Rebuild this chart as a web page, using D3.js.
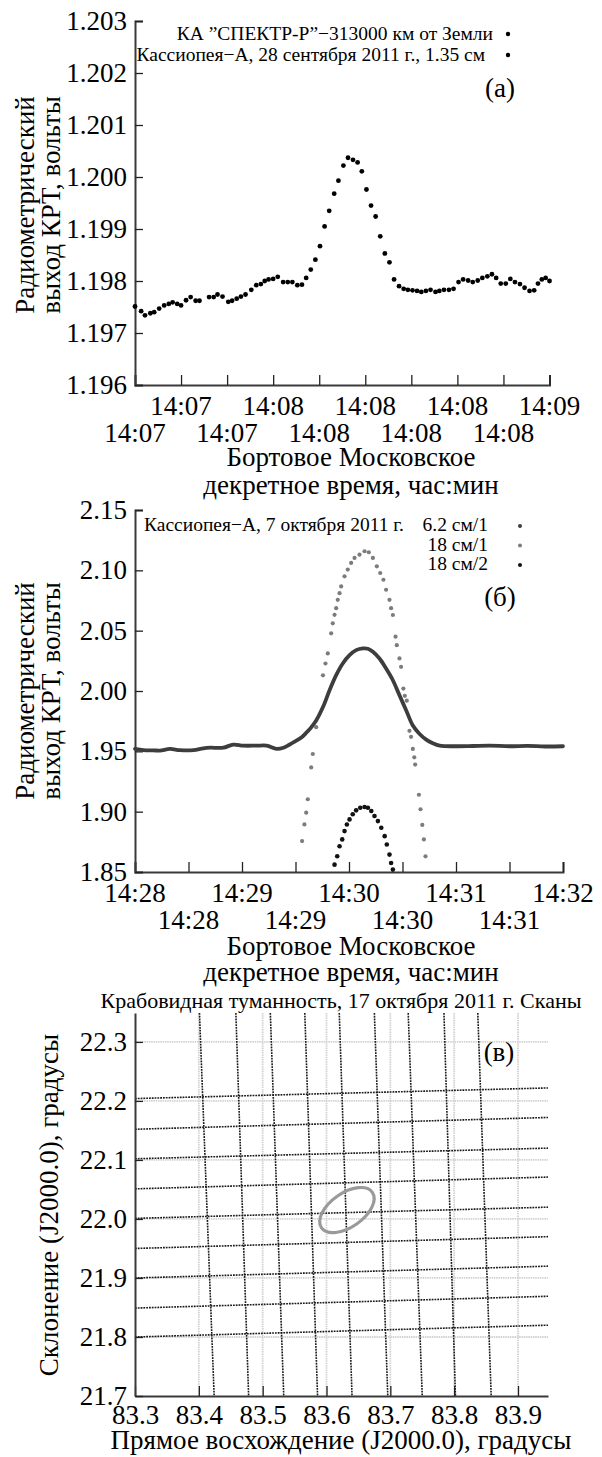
<!DOCTYPE html>
<html>
<head>
<meta charset="utf-8">
<script src="https://cdn.jsdelivr.net/npm/d3@7"></script>
<style>
  body { margin: 0; background: #fff; }
  text { font-family: "Liberation Serif", "DejaVu Serif", serif; fill: #000; }
</style>
</head>
<body>
<svg id="chart" width="602" height="1457"></svg>
<script>
// ---------- panel (a): Cas A, 28 Sep 2011, 1.35 cm ----------
// time in seconds from the first tick
const aTime = [0,1.6,2.6,4.0,5.0,6.3,7.6,8.8,9.8,11.0,
  12.0,13.3,14.5,15.8,16.8,19.3,20.5,21.5,22.8,24.3,
  25.3,26.5,27.6,28.8,30.3,31.6,32.8,33.8,34.8,36.0,
  37.2,38.6,39.8,41.0,42.3,43.5,44.6,45.8,47.0,48.2,
  49.4,50.6,51.9,53.0,54.3,55.5,56.8,58.0,59.1,60.3,
  61.5,62.7,63.9,65.1,66.3,67.5,68.8,70.0,71.1,72.3,
  73.5,74.6,75.8,77.0,78.3,79.3,80.5,81.8,83.0,84.3,
  85.5,86.8,88.0,89.3,90.5,91.8,93.0,94.1,95.3,96.6,
  97.8,99.0,100.3,101.5,102.8,104.0,105.0,106.0,107.0,108.0];
const aVolt = [1.19751,1.19742,1.19734,1.19738,1.19740,1.19747,1.19753,1.19756,1.19759,1.19756,
  1.19753,1.19763,1.19769,1.19762,1.19762,1.19769,1.19769,1.19774,1.19770,1.19760,
  1.19762,1.19766,1.19770,1.19774,1.19783,1.19792,1.19794,1.19800,1.19803,1.19804,
  1.19808,1.19798,1.19798,1.19798,1.19792,1.19793,1.19806,1.19822,1.19841,1.19867,
  1.19905,1.19935,1.19968,1.19993,1.20022,1.20037,1.20033,1.20028,1.20011,1.19976,
  1.19945,1.19924,1.19886,1.19853,1.19836,1.19803,1.19790,1.19785,1.19783,1.19782,
  1.19781,1.19779,1.19781,1.19783,1.19779,1.19781,1.19783,1.19783,1.19785,1.19798,
  1.19803,1.19801,1.19798,1.19801,1.19806,1.19809,1.19813,1.19806,1.19795,1.19795,
  1.19804,1.19798,1.19794,1.19787,1.19781,1.19782,1.19795,1.19803,1.19806,1.19800];
const aXTicks = [0,12,24,36,48,60,72,84,96,108];
const aLabelsTop = ["14:07","14:08","14:08","14:08","14:09"];   // odd ticks
const aLabelsBottom = ["14:07","14:07","14:08","14:08","14:08"]; // even ticks
const aYTicks = [1.196,1.197,1.198,1.199,1.200,1.201,1.202,1.203];
const aLegend = ["КА ”СПЕКТР-Р”−313000 км от Земли", "Кассиопея−А, 28 сентября 2011 г., 1.35 см"];

// ---------- panel (b): Cas A, 7 Oct 2011 ----------
// time in seconds from 14:28:00
const bXTicks = [0,30,60,90,120,150,180,210,240];
const bLabelsTop = ["14:28","14:29","14:30","14:31","14:32"];
const bLabelsBottom = ["14:28","14:29","14:30","14:31"];
const bYTicks = [1.85,1.90,1.95,2.00,2.05,2.10,2.15];
const bSeriesNames = ["6.2 см/1","18 см/1","18 см/2"];
const b62Time = [0,4.7,10.3,14.0,19.6,25.2,32.7,38.3,42.1,49.5,55.1,60.7,68.2,73.8,79.4,83.2,88.8,93.5,96.3,98.1,
  101.6,105.4,109.1,112.8,116.5,120.3,124.0,127.8,130.6,133.4,137.1,140.8,144.6,148.3,152.1,155.8,159.6,163.3,167.0,170.8,
  180.1,189.5,198.8,210,220,230,240];
const b62Volt = [1.952,1.951,1.9508,1.9506,1.952,1.951,1.951,1.9525,1.953,1.953,1.9556,1.9547,1.9547,1.9547,1.952,1.953,1.9575,1.9617,1.9658,1.9686,
  1.9756,1.9867,2.0006,2.0131,2.0228,2.0297,2.0339,2.0353,2.035,2.0325,2.0269,2.0186,2.0089,1.9964,1.9839,1.9714,1.9644,1.9597,1.9567,1.9547,
  1.9542,1.9544,1.9547,1.9542,1.9545,1.954,1.9542];
const b181Time = [93.7,95.0,96.0,96.9,98.8,99.7,101.6,105.4,106.8,108.1,110.0,110.9,111.9,112.8,113.7,114.7,115.6,117.5,119.3,121.2,
  123.1,125.9,128.7,131.1,133.4,135.6,137.5,139.3,140.8,142.7,143.6,144.6,146.1,146.8,148.3,149.2,150.5,151.3,152.4,153.9,
  154.8,155.8,156.6,157.1,159.2,160.1,161.1,162.0,162.9];
const b181Volt = [1.8756,1.8894,1.8992,1.9103,1.9367,1.9478,1.970,2.013,2.0228,2.0311,2.0478,2.0561,2.0631,2.0686,2.0756,2.0811,2.0867,2.095,2.1006,2.1061,
  2.1103,2.113,2.1158,2.115,2.1103,2.1033,2.0978,2.0922,2.0839,2.0756,2.0686,2.063,2.045,2.038,2.027,2.02,2.002,1.996,1.992,1.967,
  1.962,1.952,1.945,1.939,1.914,1.902,1.889,1.877,1.863];
const b182Time = [111.9,113.4,114.7,116.2,117.5,118.8,120.3,122.1,124.0,126.3,128.7,130.6,132.5,134.3,136.2,138.1,140.0,141.2,142.7,143.6,144.6];
const b182Volt = [1.8561,1.863,1.8714,1.877,1.8839,1.8894,1.8936,1.8978,1.9011,1.9033,1.9039,1.9033,1.9006,1.8964,1.8922,1.8867,1.8797,1.8728,1.8644,1.8575,1.852];

// ---------- panel (c): Crab nebula scans, 17 Oct 2011 ----------
const raTicks = [83.3,83.4,83.5,83.6,83.7,83.8,83.9];
const decTicks = [21.7,21.8,21.9,22.0,22.1,22.2,22.3];
const hScanDecLeft  = [22.204,22.152,22.102,22.051,22.001,21.950,21.900,21.849,21.800];
const hScanDecRight = [22.222,22.172,22.120,22.071,22.020,21.970,21.920,21.869,21.820];
const vScanRaTop    = [83.401,83.458,83.512,83.566,83.620,83.675,83.728,83.784,83.837];
const vScanRaBottom = [83.424,83.478,83.533,83.586,83.640,83.696,83.750,83.802,83.858];
const crabCenter = [83.632, 22.015];
const crabAxes = [0.0486, 0.0266];

const svg = d3.select('#chart');
const tickFont = 27, titleFont = 27, legendFont = 19.5;

function styleAxis(g) {
  g.attr('font-family', null).attr('font-size', null);
  g.select('.domain').attr('stroke', '#3a3a3a').attr('stroke-width', 2);
  g.selectAll('.tick line').attr('stroke', '#222').attr('stroke-width', 1.3);
  g.selectAll('.tick text').attr('font-size', tickFont).attr('fill', '#000');
}

function twoRowLabels(g, x, ticks, odd, even, yOdd, yEven) {
  g.selectAll('.lt').data(odd).enter().append('text')
    .attr('x', (d, i) => x(ticks[2 * i + 1])).attr('y', yOdd)
    .attr('text-anchor', 'middle').attr('font-size', tickFont).text(d => d);
  g.selectAll('.lb').data(even).enter().append('text')
    .attr('x', (d, i) => x(ticks[2 * i])).attr('y', yEven)
    .attr('text-anchor', 'middle').attr('font-size', tickFont).text(d => d);
}

function yTitle(g, xs, yc, lines) {
  const t = g.append('g').attr('transform', `translate(0,${yc})`);
  lines.forEach((s, i) => {
    t.append('text').attr('transform', `translate(${xs[i]},0) rotate(-90)`)
      .attr('text-anchor', 'middle').attr('font-size', titleFont).text(s);
  });
}

// ===== panel (a) =====
const ax = d3.scaleLinear().domain([0, 108]).range([135, 549.5]);
const ay = d3.scaleLinear().domain([1.196, 1.203]).range([385, 21]);
const ga = svg.append('g');

ga.append('g').attr('transform', 'translate(0,385)')
  .call(d3.axisBottom(ax).tickValues(aXTicks).tickFormat('').tickSize(-10))
  .call(styleAxis);
ga.append('g').attr('transform', 'translate(135,0)')
  .call(d3.axisLeft(ay).tickValues(aYTicks).tickFormat(d3.format('.3f')).tickSize(-8).tickPadding(8))
  .call(styleAxis);

twoRowLabels(ga, ax, aXTicks, aLabelsTop, aLabelsBottom, 415, 442);
ga.append('text').attr('x', 351).attr('y', 466).attr('text-anchor', 'middle').attr('font-size', titleFont).text('Бортовое Московское');
ga.append('text').attr('x', 351).attr('y', 494).attr('text-anchor', 'middle').attr('font-size', titleFont).text('декретное время, час:мин');
yTitle(ga, [34, 60], 205, ['Радиометрический', 'выход КРТ, вольты']);

ga.selectAll('circle.pt').data(aTime).enter().append('circle')
  .attr('cx', d => ax(d)).attr('cy', (d, i) => ay(aVolt[i])).attr('r', 2.4).attr('fill', '#000');

aLegend.forEach((s, i) => {
  ga.append('text').attr('x', i ? 485 : 493).attr('y', 40 + i * 21).attr('text-anchor', 'end')
    .attr('font-size', legendFont).text(s);
  ga.append('circle').attr('cx', 508).attr('cy', 34 + i * 21).attr('r', 2.2).attr('fill', '#000');
});
ga.append('text').attr('x', 500).attr('y', 97).attr('text-anchor', 'middle').attr('font-size', 27).text('(a)');

// ===== panel (b) =====
const bx = d3.scaleLinear().domain([0, 240]).range([135, 563]);
const by = d3.scaleLinear().domain([1.85, 2.15]).range([872, 510]);
const gb = svg.append('g');

gb.append('g').attr('transform', 'translate(0,872)')
  .call(d3.axisBottom(bx).tickValues(bXTicks).tickFormat('').tickSize(-10))
  .call(styleAxis);
gb.append('g').attr('transform', 'translate(135,0)')
  .call(d3.axisLeft(by).tickValues(bYTicks).tickFormat(d3.format('.2f')).tickSize(-8).tickPadding(8))
  .call(styleAxis);

twoRowLabels(gb, bx, bXTicks, bLabelsBottom, bLabelsTop, 929, 902);
gb.append('text').attr('x', 351).attr('y', 955).attr('text-anchor', 'middle').attr('font-size', titleFont).text('Бортовое Московское');
gb.append('text').attr('x', 351).attr('y', 981).attr('text-anchor', 'middle').attr('font-size', titleFont).text('декретное время, час:мин');
yTitle(gb, [34, 60], 691, ['Радиометрический', 'выход КРТ, вольты']);

const bColors = ['#3d3d3d', '#7c7c7c', '#111'];
const bLine = d3.line().x(d => bx(d[0])).y(d => by(d[1])).curve(d3.curveCatmullRom);
const b62 = b62Time.map((t, i) => [t, b62Volt[i]]);
const b181 = b181Time.map((t, i) => [t, b181Volt[i]]);
const b182 = b182Time.map((t, i) => [t, b182Volt[i]]);

gb.append('path').datum(b62).attr('d', bLine).attr('fill', 'none')
  .attr('stroke', bColors[0]).attr('stroke-width', 3.8).attr('stroke-linecap', 'round');
gb.selectAll('circle.s2').data(b182).enter().append('circle')
  .attr('cx', d => bx(d[0])).attr('cy', d => by(d[1])).attr('r', 2.3).attr('fill', bColors[2]);
gb.selectAll('circle.s1').data(b181).enter().append('circle')
  .attr('cx', d => bx(d[0])).attr('cy', d => by(d[1])).attr('r', 2.1).attr('fill', bColors[1]);

gb.append('text').attr('x', 144).attr('y', 531).attr('font-size', legendFont).text('Кассиопея−А, 7 октября 2011 г.');
bSeriesNames.forEach((s, i) => {
  gb.append('text').attr('x', 488).attr('y', 531 + i * 19.5).attr('text-anchor', 'end').attr('font-size', legendFont).text(s);
  gb.append('circle').attr('cx', 520).attr('cy', 526 + i * 19.5).attr('r', 2).attr('fill', bColors[i]);
});
gb.append('text').attr('x', 500).attr('y', 606).attr('text-anchor', 'middle').attr('font-size', 27).text('(б)');

// ===== panel (c) =====
const cx = d3.scaleLinear().domain([83.3, 83.947]).range([135, 548]);
const cy = d3.scaleLinear().domain([21.7, 22.349]).range([1396, 1013]);
const gc = svg.append('g');

gc.append('defs').append('clipPath').attr('id', 'clipC')
  .append('rect').attr('x', 135).attr('y', 1013).attr('width', 413).attr('height', 383);
const plotC = gc.append('g').attr('clip-path', 'url(#clipC)');

// light grid
plotC.selectAll('line.gh').data(decTicks.slice(1)).enter().append('line')
  .attr('x1', 135).attr('x2', 548).attr('y1', d => cy(d)).attr('y2', d => cy(d))
  .attr('stroke', '#d2d2d2').attr('stroke-width', 1.8).attr('stroke-dasharray', '1.5,0.8');
plotC.selectAll('line.gv').data(raTicks.slice(1)).enter().append('line')
  .attr('y1', 1013).attr('y2', 1396).attr('x1', d => cx(d)).attr('x2', d => cx(d))
  .attr('stroke', '#d2d2d2').attr('stroke-width', 1.8).attr('stroke-dasharray', '1.5,0.8');

// scans
plotC.selectAll('line.hs').data(hScanDecLeft).enter().append('line')
  .attr('x1', cx(83.3)).attr('x2', cx(83.947))
  .attr('y1', d => cy(d)).attr('y2', (d, i) => cy(hScanDecRight[i]))
  .attr('stroke', '#1a1a1a').attr('stroke-width', 1.6).attr('stroke-dasharray', '1.8,1');
plotC.selectAll('line.vs').data(vScanRaTop).enter().append('line')
  .attr('y1', cy(22.349)).attr('y2', cy(21.7))
  .attr('x1', d => cx(d)).attr('x2', (d, i) => cx(vScanRaBottom[i]))
  .attr('stroke', '#1a1a1a').attr('stroke-width', 1.6).attr('stroke-dasharray', '1.8,1');

// source contour
const ex = cx(crabCenter[0]), ey = cy(crabCenter[1]);
plotC.append('ellipse').attr('cx', ex).attr('cy', ey)
  .attr('rx', cx(83.3 + crabAxes[0]) - cx(83.3)).attr('ry', cx(83.3 + crabAxes[1]) - cx(83.3))
  .attr('transform', `rotate(-35,${ex},${ey})`)
  .attr('fill', 'none').attr('stroke', '#9a9a9a').attr('stroke-width', 3.2);

gc.append('g').attr('transform', 'translate(0,1396)')
  .call(d3.axisBottom(cx).tickValues(raTicks).tickFormat(d3.format('.1f')).tickSize(-10).tickSizeOuter(0).tickPadding(9))
  .call(styleAxis);
gc.append('g').attr('transform', 'translate(135,0)')
  .call(d3.axisLeft(cy).tickValues(decTicks).tickFormat(d3.format('.1f')).tickSize(-8).tickSizeOuter(0).tickPadding(8))
  .call(styleAxis);

gc.append('text').attr('x', 341).attr('y', 1008).attr('text-anchor', 'middle').attr('font-size', 22)
  .text('Крабовидная туманность, 17 октября 2011 г. Сканы');
gc.append('text').attr('x', 341).attr('y', 1449).attr('text-anchor', 'middle').attr('font-size', titleFont)
  .text('Прямое восхождение (J2000.0), градусы');
yTitle(gc, [58], 1205, ['Склонение (J2000.0), градусы']);
gc.append('text').attr('x', 499).attr('y', 1061).attr('text-anchor', 'middle').attr('font-size', 27).text('(в)');
</script>
</body>
</html>
